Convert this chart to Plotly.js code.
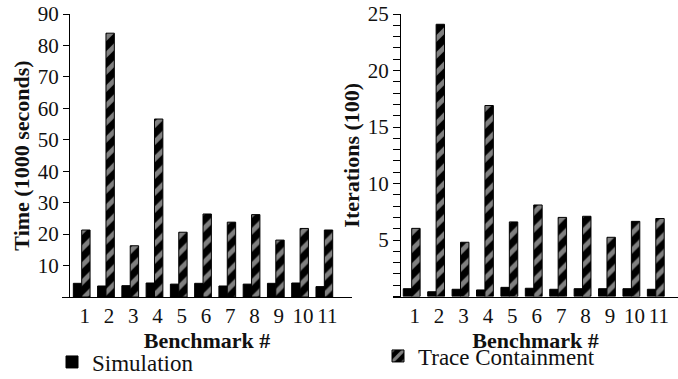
<!DOCTYPE html>
<html>
<head>
<meta charset="utf-8">
<script src="https://cdn.plot.ly/plotly-3.0.1.min.js"></script>
<style>html,body{margin:0;padding:0;background:#fff;}#chart{width:678px;height:379px;}</style>
</head>
<body>
<div id="chart"></div>
<script>
// Benchmark categories
const benchmarks = [1, 2, 3, 4, 5, 6, 7, 8, 9, 10, 11];
const benchmarkLabels = ['1', '2', '3', '4', '5', '6', '7', '8', '9', '10', '11'];
const seriesNames = ['Simulation', 'Trace Containment'];

// Left panel: Time (1000 seconds)
const simTime   = [4.35, 3.5, 3.6, 4.45, 4.1, 4.35, 3.5, 4.1, 4.35, 4.45, 3.3];
const traceTime = [21.3, 83.9, 16.3, 56.6, 20.6, 26.4, 23.8, 26.2, 18.1, 21.8, 21.3];

// Right panel: Iterations (100)
const simIter   = [0.69, 0.42, 0.64, 0.58, 0.81, 0.73, 0.64, 0.69, 0.69, 0.69, 0.64];
const traceIter = [6.03, 24.09, 4.8, 16.9, 6.6, 8.1, 7.0, 7.1, 5.24, 6.65, 6.9];

const timeTicks = [10, 20, 30, 40, 50, 60, 70, 80, 90];
const iterTicks = [5, 10, 15, 20, 25];

const FONT = 'Liberation Serif';
const W = 678, H = 379;
const px = v => v / W;
const py = v => (H - v) / H;

const stripe = {shape: '/', fillmode: 'overlay', fgcolor: 'white', size: 12, solidity: 0.4};

const traces = [
  {type: 'bar', name: seriesNames[0], x: benchmarks, y: simTime, xaxis: 'x', yaxis: 'y',
   marker: {color: 'black', line: {color: 'black', width: 1}},
   legend: 'legend', legendgroup: 'sim', showlegend: true},
  {type: 'bar', name: seriesNames[1], x: benchmarks, y: traceTime, xaxis: 'x', yaxis: 'y',
   marker: {color: 'black', pattern: stripe, line: {color: 'black', width: 1}},
   legend: 'legend2', legendgroup: 'tc', showlegend: true},
  {type: 'bar', name: seriesNames[0], x: benchmarks, y: simIter, xaxis: 'x2', yaxis: 'y2',
   marker: {color: 'black', line: {color: 'black', width: 1}},
   legendgroup: 'sim', showlegend: false},
  {type: 'bar', name: seriesNames[1], x: benchmarks, y: traceIter, xaxis: 'x2', yaxis: 'y2',
   marker: {color: 'black', pattern: stripe, line: {color: 'black', width: 1}},
   legendgroup: 'tc', showlegend: false}
];

const tickFont = {family: FONT, size: 21, color: '#111'};
const titleFont = {family: FONT, size: 22, color: '#111'};
const legendFont = {family: FONT, size: 23, color: '#111'};

const xCommon = {
  tickvals: benchmarks, ticktext: benchmarkLabels, ticks: '', showline: true,
  linecolor: 'black', linewidth: 1, showgrid: false, zeroline: false,
  tickfont: tickFont, ticklabelshift: 3, fixedrange: true
};

const layout = {
  width: W, height: H,
  margin: {l: 0, r: 0, t: 0, b: 0, autoexpand: false},
  paper_bgcolor: 'white', plot_bgcolor: 'white',
  barmode: 'group', bargap: 0.31, bargroupgap: 0,
  font: {family: FONT, size: 22, color: '#111'},
  xaxis: Object.assign({}, xCommon, {
    domain: [px(62), px(352)], range: [0.188, 12.14], anchor: 'y',
    title: {text: '<b>Benchmark #</b>', font: titleFont, standoff: 0}
  }),
  yaxis: {
    domain: [py(297), py(14)], range: [0, 90], anchor: 'free', position: px(69),
    tickvals: timeTicks, ticks: 'outside', ticklen: 6, tickcolor: 'black',
    showline: true, linecolor: 'black', linewidth: 1, showgrid: false, zeroline: false,
    tickfont: tickFont,
    title: {text: '<b>Time (1000 seconds)</b>', font: titleFont, standoff: 1}
  },
  xaxis2: Object.assign({}, xCommon, {
    domain: [px(393), 1], range: [0.234, 11.91], anchor: 'y2',
    title: {text: '<b>Benchmark #</b>', font: titleFont, standoff: 0}
  }),
  yaxis2: {
    domain: [py(296.5), py(14)], range: [0, 25], anchor: 'free', position: px(400),
    tickvals: iterTicks, ticks: 'outside', ticklen: 7, tickcolor: 'black',
    minor: {tickvals: Array.from({length: 26}, (_, i) => i), ticks: 'outside', ticklen: 7, tickcolor: 'black'},
    showline: true, linecolor: 'black', linewidth: 1, showgrid: false, zeroline: false,
    tickfont: tickFont,
    title: {text: '<b>Iterations (100)</b>', font: titleFont, standoff: 1}
  },
  legend: {x: px(52), y: py(362), xanchor: 'left', yanchor: 'middle',
           bgcolor: 'rgba(0,0,0,0)', font: legendFont},
  legend2: {x: px(378), y: py(356), xanchor: 'left', yanchor: 'middle',
            bgcolor: 'rgba(0,0,0,0)', font: legendFont},
  showlegend: true
};

Plotly.newPlot('chart', traces, layout, {staticPlot: true, displayModeBar: false});
</script>
</body>
</html>
